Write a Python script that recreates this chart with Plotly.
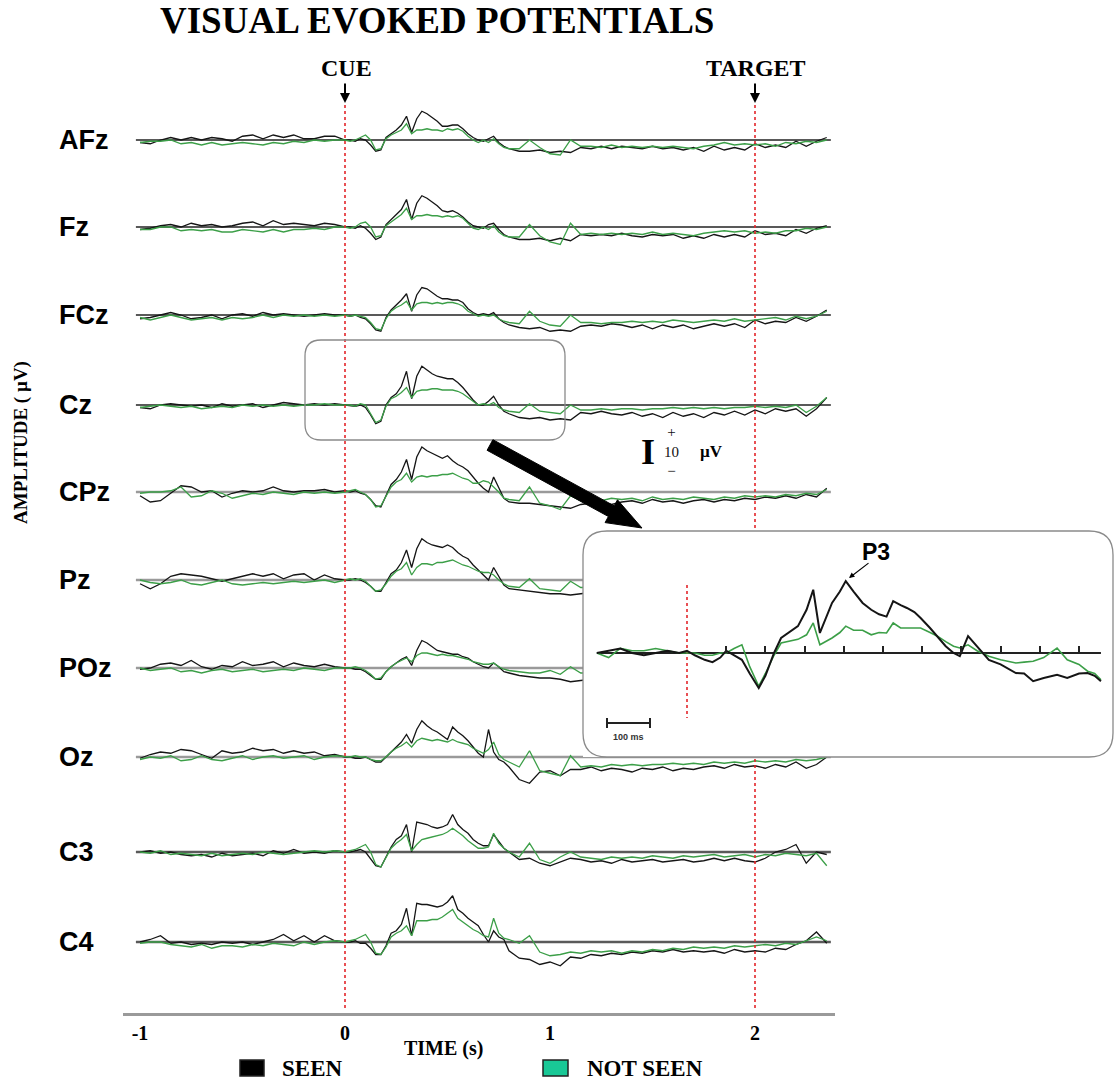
import numpy as np
import plotly.graph_objects as go

# ------------------------------------------------------------------ data
TIME_PRE = np.round(np.arange(-1.0, 0.0001, 0.05), 3)      # 21 samples
TIME_MID = np.round(np.arange(0.025, 0.8001, 0.025), 3)    # 32 samples
TIME_POST = np.round(np.arange(0.85, 2.3501, 0.05), 3)     # 31 samples
TIME_S = np.concatenate([TIME_PRE, TIME_MID, TIME_POST])

CHANNELS = ["AFz", "Fz", "FCz", "Cz", "CPz", "Pz", "POz", "Oz", "C3", "C4"]

# amplitudes in microvolts (pre-cue | 0-0.8 s | post)
AFz_seen = [-1, -1.5, 0, 1, 0, 1, 0, 1, 0.5, -0.5, 1.5, 2, 0.5, 2, 1, 2, 0.5, 0.5, 1.5, 1.5, 0,
            0, -0.5, 0.5, 0, -2, -4.5, -4, 1, 2.5, 4, 6, 9.5, 3, 8.5, 11.5, 10.5, 9, 7.5, 5.5, 5.5, 6, 6, 4.5, 2.5, 1, 0, -0.5, 0.5, 1.5, -1, -2.5, -3.5,
            -4.5, -4.5, -4, -5, -4.5, -5, -3, -3.5, -2.5, -3.5, -2.5, -3, -3.5, -2.5, -3.5, -3, -4, -3, -4.5, -2.5, -4, -3, -4, -1.5, -3, -2, -3, -0.5, -2.5, -0.5, 1]
AFz_notseen = [-1, -0.5, -0.5, 0, -1.5, -1, -2, -1, -2, -1.5, -1, -1.5, -2, -1, -1.5, -0.5, -1, 0, -0.5, 0, 0,
               -0.5, 0, 1, 2, 0, -4, -3.5, 0.5, 2, 3, 4, 6.5, 2.5, 4, 4, 4.5, 4, 4, 3.5, 4.5, 4, 4.5, 3.5, 1.5, 0, -1, 0, -1, 0.5, -1.5, -3, -3.5,
               -3.5, 0, -3, -5.5, -6, 0, -2.5, -2.5, -3, -2, -3, -2.5, -3, -2.5, -3, -2.5, -3, -3.5, -2.5, -2, -1, -2, -1.5, -2, -1.5, -2.5, -1, -1.5, -0.5, -1, 0]

Fz_seen = [-1, -0.5, 0.5, 1, 0, 1.5, 0.5, 1, 0, 0.5, 1.5, 2, 0.5, 2.5, 1, 1.5, 1, 0.5, 1.5, 1, 0,
           0, -0.5, 0.5, -0.5, -2.5, -5, -4, 1, 3, 5, 7, 11, 3, 9.5, 12.5, 11.5, 10, 8.5, 6.5, 6, 6.5, 5.5, 4, 2, 0.5, 0, -0.5, 1, 1.5, -1, -3, -4,
           -5, -5, -4.5, -5.5, -4.5, -5.5, -3, -3.5, -3, -3.5, -2.5, -3.5, -4, -3, -3.5, -3, -4.5, -3.5, -4.5, -3, -4, -3, -4, -1.5, -3, -2.5, -3.5, -1, -2.5, -0.5, 0.5]
Fz_notseen = [-1, -1, 0, 0, -1.5, -1, -1.5, -1, -2, -2, -1, -1.5, -2, -1, -2, -1, -1, -0.5, -1, 0, 0,
              -0.5, 0, 1.5, 2, 0, -4, -3.5, 0.5, 2, 3.5, 5, 7.5, 3, 4.5, 4.5, 5, 4.5, 4.5, 4, 4.5, 4, 4.5, 3.5, 1.5, -0.5, -1, 0, -1, 0.5, -2, -3.5, -4,
              -4, 1, -3.5, -6, -7, 1.5, -3, -2.5, -3, -2.5, -3, -2.5, -3, -2, -3, -2.5, -3, -3.5, -2.5, -2, -1.5, -2, -1.5, -2.5, -2, -2.5, -1.5, -1.5, -0.5, -1, 0]

FCz_seen = [-1.5, -1, 0, 1, 0, -1.5, -1, 0, -1.5, 0, 0.5, -0.5, 1, 0, 0.5, 0, -0.5, 0, 0.5, 0, 0,
            -0.5, 0, -1, -1.5, -3.5, -6, -6.5, -1, 2, 4, 6, 8.5, 1.5, 8, 11, 10.5, 9, 7.5, 6.5, 6.5, 6, 6, 5, 2.5, 1, 0, 0.5, 0, 1, -1.5, -3, -4,
            -5, -5.5, -5, -6.5, -6, -6.5, -4.5, -4, -4.5, -3.5, -4, -5, -4, -5.5, -4, -5, -4, -5.5, -4.5, -3.5, -4.5, -3.5, -5, -2, -3.5, -2.5, -3, -1, -2.5, -0.5, 2]
FCz_notseen = [-1, -2, -1, 0, -1, -2, -1.5, -1, -2, -1, -1.5, -1, 0, -1, 0, -0.5, 0, -0.5, 0, -0.5, 0,
               -0.5, 0, -0.5, -1, -3, -5.5, -6, -1.5, 1.5, 3, 4, 5.5, 2, 4.5, 5, 5, 4.5, 5, 4.5, 5, 5, 4.5, 3.5, 1.5, 0.5, -0.5, 0, -0.5, 0, -1.5, -2.5, -3,
               -3.5, 1.5, -2.5, -4, -4.5, 0, -3, -3, -3.5, -3, -3, -2.5, -3, -2.5, -3, -2, -2.5, -3, -2.5, -2, -2.5, -1.5, -2.5, -2, -1.5, -1, -2, -0.5, -1.5, -0.5, 1.5]

Cz_seen = [-1, -1.5, 0, 0.5, 0, -0.5, 0, -1, 0.5, -0.5, 0, 0.5, -1, 0, 1, 0.5, 0, 0.5, 0, 0.5, 0,
           0, -0.5, 0, -1, -4, -7.5, -6.5, 0, 3, 4.5, 7.5, 13.5, 2.5, 11.5, 15.5, 14, 12.5, 11.5, 11, 10.5, 10.5, 9, 7, 4.5, 2, 0, 0, 1.5, 3.5, 0, -2.5, -3.5,
           -5, -5.5, -5, -6, -5.5, -6, -3, -3.5, -2.5, -3.5, -4, -3, -4.5, -3.5, -5, -3, -4.5, -3.5, -5, -3, -4, -2.5, -4, -2, -3.5, -1.5, -2.5, -1.5, -4.5, -1.5, 3]
Cz_notseen = [-1, -0.5, 0, -0.5, -1, -0.5, -1.5, -1, -0.5, -1, 0, -0.5, 0, -0.5, 0, -0.5, 0, 0, 0.5, 0, 0,
              0, -0.5, 0.5, 0, -3.5, -7, -6, -0.5, 2.5, 3.5, 5, 7, 3, 5.5, 6, 6, 6.5, 6.5, 6, 6, 6, 5.5, 4.5, 3, 1.5, 0, 0.5, 0, 1, -1, -2, -2.5,
              -3, 0.5, -2.5, -3, -3.5, 0, -2, -2, -1.5, -2, -1.5, -1.5, -2, -1.5, -1.5, -1, -1.5, -1, -1.5, -1, -1.5, -1, -1, -0.5, -1, -0.5, -1, 0, -3, -0.5, 3]

CPz_seen = [-1.5, -4, -3.5, -0.5, 2.5, 2, 0, 0.5, -2, -0.5, 0.5, 0, 0.5, 2, 0.5, 0, 0.5, 0.5, 1, 0, 0.5,
            0, 0.5, -0.5, -1, -3, -5.5, -6, -1.5, 3, 5, 8, 13, 5, 14, 18, 16.5, 15.5, 14.5, 13.5, 14.5, 12.5, 11, 10, 8.5, 6, 3.5, 1.5, 0, 6, 2, -2.5, -4,
            -4.5, -4.5, -5, -5.5, -6, -6.5, -5, -4.5, -4, -5, -4, -3.5, -4.5, -3, -4, -3.5, -4.5, -3.5, -3, -4, -3, -3.5, -2.5, -3, -2, -2.5, -1.5, -2.5, -1, -2, 1.5]
CPz_notseen = [-0.5, 0, 0, 0.5, 2, -2, -1.5, 0.5, -0.5, -2.5, -1.5, -0.5, -1, 0, -0.5, -1, 0, -0.5, 0, -0.5, 0,
               0.5, 1, 0, -1, -3, -6, -5.5, -2, 2, 4, 5, 7.5, 4, 6, 6.5, 6, 6.5, 6.5, 7, 7, 7.5, 6.5, 5.5, 5, 3.5, 3.5, 4.5, 4, 2, 0, -2.5, -3,
               -3.5, 2, -4.5, -5.5, -7, -1.5, -3.5, -3, -3.5, -2.5, -3, -2.5, -3.5, -2, -3, -2.5, -3, -2, -2.5, -3, -2, -2.5, -1.5, -2, -1.5, -2, -1, -1.5, -0.5, -1, 1]

Pz_seen = [-1.5, -3.5, -1.5, 1.5, 2.5, 2, 1.5, 0.5, -0.5, 0.5, 1.5, 2.5, 1.5, 2.5, 0.5, 2, 2.5, 0, 2, 0.5, 0,
           0, 0.5, 0, -1, -2.5, -4.5, -4.5, -1, 2.5, 4, 7, 12, 5, 12.5, 16.5, 15, 14, 13.5, 13, 14, 13, 11, 9.5, 8.5, 6, 4, 2, 0, 5, 1.5, -2, -3.5,
           -4, -4.5, -5, -5.5, -5.5, -6, -5.5, -5, -5.5, -5, -4.5, -5, -4, -4.5, -4, -4.5, -3.5, -4, -3, -3.5, -2.5, -3, -3.5, -2.5, -2, -3, -2, -1.5, -2.5, -1, 0]
Pz_notseen = [0, -1, -1.5, -1, 0, -1.5, -2, -1, 0, -1.5, -2, -1.5, -1, -1.5, -1, -0.5, -1, -0.5, 0, -1, 0,
              0.5, 0, 0.5, -0.5, -2.5, -4.5, -4, -1.5, 1.5, 3.5, 4.5, 7, 2, 5, 6.5, 6.5, 6, 7, 7, 7.5, 8, 7, 6, 5.5, 4.5, 3.5, 3, 3, 2, 0, -1.5, -2.5,
              -3, 0.5, -3.5, -4, -4.5, -0.5, -3, -3, -3.5, -3, -3, -2.5, -3, -2.5, -2, -2.5, -2, -1.5, -2, -1.5, -1, -1.5, -1, -1.5, -1, -1, -0.5, -1, -0.5, -0.5, 0]

POz_seen = [-0.5, 0, 1.5, 2, 1, 3, 0.5, -0.5, 1, 0.5, 2.5, 1, 1.5, 2.5, 0.5, 2, 1, 0.5, 1.5, 0.5, 0,
            0, -0.5, -0.5, -1.5, -3, -4.5, -4.5, -1.5, 0.5, 2, 3.5, 4.5, 1, 7, 11, 10, 8.5, 7, 6.5, 6, 5.5, 5.5, 4.5, 4, 2.5, 1.5, 0.5, 0, 2, 0.5, -1.5, -2,
            -3, -3.5, -4, -4, -4.5, -5.5, -5, -4.5, -5, -4, -4.5, -4, -3.5, -4, -3, -3.5, -3, -3.5, -2.5, -3, -2, -2.5, -3, -2, -2.5, -1.5, -2, -1, -1.5, -0.5, 0]
POz_notseen = [0, -1, -0.5, 0, -1.5, -1, -2, -1, -0.5, -1.5, -1, -0.5, -1.5, -1, -0.5, -1, 0, -0.5, -1, 0, 0,
               0, 0.5, 0, -1, -2.5, -4.5, -4, -1.5, 0.5, 2, 3, 4, 2.5, 5, 6, 6, 5.5, 5, 5.5, 5, 5, 4.5, 4, 3.5, 2.5, 2, 1.5, 1.5, 2, 0.5, -0.5, -1,
               -1.5, -2, -2, -1, -2.5, 0.5, -2, -2, -2.5, -2, -2, -1.5, -2, -1.5, -1.5, -1, -1.5, -1, -1, -1.5, -1, -0.5, -1, -1, -0.5, -1, 0, -0.5, 0, -0.5, 0]

Oz_seen = [-0.5, 1, 2, 1.5, 3, 2.5, 1, -0.5, 2.5, 1.5, 2, 3.5, 2.5, 3, 1.5, 2.5, 1.5, 2, 0.5, 1, 0,
           0, -0.5, -0.5, 0, -1, -2, -2, 0, 2, 4, 6, 9, 5.5, 11, 14.5, 12.5, 11, 10, 8.5, 7, 12, 10, 8.5, 6.5, 4, 1.5, 0, 11, 2, -1, -2, -4,
           -9, -10.5, -6, -5.5, -7.5, -5, -5, -4, -5.5, -4.5, -5, -6, -4.5, -5, -4, -5.5, -4.5, -5, -4, -3.5, -4.5, -3, -4, -3.5, -4.5, -3, -4, -2, -4.5, -3, 0]
Oz_notseen = [-1, 0, -0.5, 0.5, -1.5, -1, 0.5, -1, -1.5, -0.5, 0.5, -1, 0, 0.5, -0.5, 0, 0.5, -1, 0, 0.5, 0,
              0, 0.5, 0, 0, -1, -1.5, -1.5, 0, 2, 3.5, 4.5, 6, 4, 6.5, 7.5, 7, 6.5, 7, 6.5, 6, 7, 6, 5.5, 5, 3.5, 2.5, 1.5, 3, 6, 1, -1, -2,
              -4, 2.5, -5.5, -6.5, -7.5, 0.5, -4, -3.5, -4, -3, -3.5, -3, -3.5, -3, -3, -2.5, -3, -2.5, -3, -2, -2.5, -2, -2.5, -1.5, -2, -1.5, -2, -1, -1.5, -1, 0]

C3_seen = [0, 0.5, -0.5, 0, -1, -1.5, -1, -2, -0.5, -1.5, -1, -0.5, -1.5, 0.5, -0.5, 1, -0.5, 0, -0.5, 0.5, 0,
           0, 0.5, 1, 0, -3, -5.5, -6, -2, 2, 5, 6.5, 11, 0, 12, 11.5, 11, 10, 9.5, 10, 11, 15, 11, 9, 7.5, 5, 3.5, 2.5, 2.5, 7, 4, 1.5, 0,
           -3, -2.5, -4.5, -5.5, -4, -2.5, -3, -4, -3.5, -4.5, -3, -4, -3.5, -3, -4, -3.5, -3, -4, -3.5, -2.5, -3.5, -2.5, -3.5, -4, -2.5, 0, 1, 3, -4.5, 0, -1]
C3_notseen = [0, -0.5, 0.5, -1, -0.5, -1, -1.5, -0.5, -1.5, -1, -0.5, -1, 0, -0.5, -1, -0.5, 0, 0.5, 0, 0.5, 0,
              0.5, 1, 2, 3, 0, -5, -6, -2.5, 1.5, 3.5, 5, 7, 0.5, 3, 5, 5.5, 6, 6.5, 7, 8, 9.5, 8, 6.5, 4.5, 3, 1.5, 1.5, 2, 7.5, 3.5, 1.5, 0,
              -2, 3.5, -3, -4.5, -2, 0, -2, -2.5, -3, -2, -2.5, -2, -2.5, -1.5, -2, -2.5, -1.5, -2, -1.5, -1, -2, -1.5, -1, -2, -1, -1.5, -0.5, -1, -1.5, -0.5, -5.5]

C4_seen = [0, 1, 2.5, -0.5, 0, -1, -0.5, -1, 0, -0.5, 0, -1, 0, 1, 3, 0.5, 2.5, 0, 2.5, 0.5, 0,
           0, 0.5, -0.5, -0.5, -2.5, -5, -5, -1.5, 3.5, 4.5, 7, 13.5, 2.5, 15.5, 15, 15, 14.5, 14, 14.5, 16, 18.5, 13, 11.5, 9.5, 8, 6.5, 3, 0, 4.5, 2, 1, -3.5,
           -6.5, -7, -9, -8, -9.5, -6, -6.5, -5, -5.5, -4.5, -5, -4, -4.5, -3.5, -4, -3, -4, -3.5, -4, -3.5, -4.5, -3, -4, -3.5, -4, -2.5, -3, -1, 0.5, 4, -0.5]
C4_notseen = [-0.5, 0, 0, -1, -1.5, -2, -1, -2.5, -1.5, -1.5, -2, -1, -1.5, -0.5, -1, -1.5, 0, -1, 0, 0.5, 0,
              0.5, 1, 2, 3, 0, -4.5, -5, -2, 2, 3.5, 4.5, 6.5, 2.5, 8.5, 8.5, 8.5, 9, 9, 10, 11.5, 13, 9.5, 8, 6.5, 5, 4, 2.5, 2, 9.5, 3.5, 1.5, 1,
              -0.5, 2.5, -4, -5.5, -5, -4, -4.5, -3.5, -4, -3.5, -4.5, -3.5, -4, -3, -3.5, -2.5, -3, -2, -2.5, -2, -2.5, -1.5, -2, -1.5, -1, -1.5, -0.5, -1, 0.5, 2, 0.5]

SEEN = {"AFz": AFz_seen, "Fz": Fz_seen, "FCz": FCz_seen, "Cz": Cz_seen, "CPz": CPz_seen,
        "Pz": Pz_seen, "POz": POz_seen, "Oz": Oz_seen, "C3": C3_seen, "C4": C4_seen}
NOT_SEEN = {"AFz": AFz_notseen, "Fz": Fz_notseen, "FCz": FCz_notseen, "Cz": Cz_notseen, "CPz": CPz_notseen,
            "Pz": Pz_notseen, "POz": POz_notseen, "Oz": Oz_notseen, "C3": C3_notseen, "C4": C4_notseen}

# zoomed Cz inset (time in ms, amplitude in microvolts)
INSET_T_MS = [-230, -200, -170, -140, -110, -80, -50, -20, 0, 20, 45, 65, 85, 100, 120, 140, 160, 183, 200,
              222, 240, 260, 283, 305, 322, 339, 355, 370, 390, 405, 425, 448, 470, 490, 509, 526, 545, 561, 580,
              596, 620, 639, 660, 680, 696, 717, 740, 770, 800, 839, 860, 883, 910, 944, 970, 1000, 1022, 1040, 1056]
INSET_CZ_SEEN = [0, 0.5, 1, 0, -0.5, 0, 0.5, 0, 0.5, -0.5, -1.5, -2, -1, 0.5, -0.5, -1.5, -4.5, -7.7, -5,
                 0, 3.3, 4.5, 5.9, 9.5, 13.9, 4.4, 8, 11, 13.5, 15.8, 13.5, 11, 9.5, 8.5, 8, 11.4, 10.5, 9.9, 9,
                 7.7, 5.5, 3.7, 1.5, 0, -0.7, 3.7, 1.5, -1.5, -2.5, -4.4, -4.5, -6.2, -5.5, -4.8, -5.5, -4.5, -4.4, -5, -6.2]
INSET_CZ_NOTSEEN = [0, -1, 1, 0.5, 0.5, 1, 0.5, 0, 0, 0, -0.5, -0.5, 0, 0, 1, 1.8, -3, -7.3, -4.5,
                    -0.5, 2.2, 2.5, 3, 4, 6.6, 1.8, 2.5, 3.3, 4.5, 5.9, 5, 5, 4, 4.5, 4.4, 6.6, 5.5, 5.5, 5.5,
                    5.5, 4.5, 3.7, 2.5, 1.5, 1.1, 1.8, 0.5, -0.7, -1.5, -2.2, -2, -1.8, -1, 1.1, -1.5, -2.5, -4, -4.5, -5.9]
INSET_TICKS_MS = [100, 200, 300, 400, 500, 600, 700, 800, 900, 1000]

X_TICKS = [-1, 0, 1, 2]
X_TICK_TEXT = ["-1", "0", "1", "2"]
EVENTS = [("CUE", 0.0), ("TARGET", 2.0)]

for ch in CHANNELS:
    for nm, d in (("seen", SEEN[ch]), ("not seen", NOT_SEEN[ch])):
        if len(d) != len(TIME_S):
            raise ValueError(f"{ch} {nm}: {len(d)} values, expected {len(TIME_S)}")
assert len(INSET_T_MS) == len(INSET_CZ_SEEN) == len(INSET_CZ_NOTSEEN)

# ------------------------------------------------------------------ layout constants
W, H = 1114, 1081
GAIN = 2.5                  # px per microvolt (main panel)
PX_PER_S, X0_PX = 205.0, 345.0
BASE_PX = [140, 227, 315, 405, 492, 580, 668, 757, 852, 942]
BASE_COL = ["#222222"] * 4 + ["#9a9a9a"] * 4 + ["#5a5a5a"] * 2
BASE_W = [1.5] * 4 + [2.5] * 4 + [2.5] * 2
AXIS_PX = 1013
INSET_BOX = (583, 531, 1113, 757)
INSET_BASE_PX, INSET_T0_PX, INSET_PX_PER_MS, INSET_GAIN = 653, 687, 0.392, 4.55

BLACK = "#151515"
GREEN = "#3c9f48"
RED = "#e3262b"
SERIF = "Liberation Serif, Times New Roman, serif"
SANS = "Liberation Sans, Arial, sans-serif"


def px2paper(x, y):
    return x / W, 1 - y / H


def pp(x, y):
    X, Y = px2paper(x, y)
    return f"{X:.5f},{Y:.5f}"


def rrect(x0, y0, x1, y1, r):
    return (f"M {pp(x0 + r, y0)} L {pp(x1 - r, y0)} Q {pp(x1, y0)} {pp(x1, y0 + r)} "
            f"L {pp(x1, y1 - r)} Q {pp(x1, y1)} {pp(x1 - r, y1)} L {pp(x0 + r, y1)} "
            f"Q {pp(x0, y1)} {pp(x0, y1 - r)} L {pp(x0, y0 + r)} Q {pp(x0, y0)} {pp(x0 + r, y0)} Z")


fig = go.Figure()

# ---- main panel
for i, ch in enumerate(CHANNELS):
    off = -BASE_PX[i] / GAIN
    fig.add_trace(go.Scatter(x=[-1.02, 2.37], y=[off, off], mode="lines",
                             line=dict(color=BASE_COL[i], width=BASE_W[i]), hoverinfo="skip"))
    fig.add_trace(go.Scatter(x=TIME_S, y=off + np.array(SEEN[ch], dtype=float), mode="lines",
                             line=dict(color=BLACK, width=1.3), name="SEEN"))
    fig.add_trace(go.Scatter(x=TIME_S, y=off + np.array(NOT_SEEN[ch], dtype=float), mode="lines",
                             line=dict(color=GREEN, width=1.3), name="NOT SEEN"))

for _, t in EVENTS:
    fig.add_trace(go.Scatter(x=[t, t], y=[-105 / GAIN, -1010 / GAIN], mode="lines",
                             line=dict(color=RED, width=1.6, dash="dot"), hoverinfo="skip"))

# ---- inset (Cz zoom)
fig.add_trace(go.Scatter(x=[INSET_T_MS[0], INSET_T_MS[-1]], y=[0, 0], mode="lines",
                         line=dict(color="#222222", width=2), xaxis="x2", yaxis="y2", hoverinfo="skip"))
fig.add_trace(go.Scatter(x=[0, 0], y=[(INSET_BASE_PX - 585) / INSET_GAIN, (INSET_BASE_PX - 718) / INSET_GAIN],
                         mode="lines", line=dict(color=RED, width=1.6, dash="dot"),
                         xaxis="x2", yaxis="y2", hoverinfo="skip"))
fig.add_trace(go.Scatter(x=INSET_T_MS, y=INSET_CZ_NOTSEEN, mode="lines",
                         line=dict(color=GREEN, width=1.6), xaxis="x2", yaxis="y2"))
fig.add_trace(go.Scatter(x=INSET_T_MS, y=INSET_CZ_SEEN, mode="lines",
                         line=dict(color=BLACK, width=2.0), xaxis="x2", yaxis="y2"))

x_lo = (123 - X0_PX) / PX_PER_S
x_hi = (835 - X0_PX) / PX_PER_S
ix0, iy0, ix1, iy1 = INSET_BOX

fig.update_layout(
    width=W, height=H, margin=dict(l=0, r=0, t=0, b=0),
    paper_bgcolor="white", plot_bgcolor="white", showlegend=False,
    xaxis=dict(domain=[123 / W, 835 / W], range=[x_lo, x_hi], anchor="y",
               showline=True, linecolor="#9a9a9a", linewidth=2.5, showgrid=False, zeroline=False,
               tickvals=X_TICKS, ticktext=X_TICK_TEXT, ticks="",
               tickfont=dict(family=SERIF, size=20, color="black", weight="bold")),
    yaxis=dict(domain=[1 - AXIS_PX / H, 1], range=[-AXIS_PX / GAIN, 0], visible=False),
    xaxis2=dict(domain=[ix0 / W, ix1 / W],
                range=[(ix0 - INSET_T0_PX) / INSET_PX_PER_MS, (ix1 - INSET_T0_PX) / INSET_PX_PER_MS],
                anchor="free", position=1 - INSET_BASE_PX / H, showline=False, showgrid=False,
                zeroline=False, showticklabels=False, ticks="inside", ticklen=7, tickwidth=1.5,
                tickcolor="#222222", tickvals=INSET_TICKS_MS),
    yaxis2=dict(domain=[1 - iy1 / H, 1 - iy0 / H], anchor="x2",
                range=[-(iy1 - INSET_BASE_PX) / INSET_GAIN, (INSET_BASE_PX - iy0) / INSET_GAIN],
                visible=False),
)

ann = []


def text(x, y, s, size, family=SERIF, bold=True, xanchor="center", color="black", angle=0):
    X, Y = px2paper(x, y)
    ann.append(dict(x=X, y=Y, xref="paper", yref="paper", text=s, showarrow=False,
                    xanchor=xanchor, yanchor="middle", textangle=angle,
                    font=dict(family=family, size=size, color=color,
                              weight="bold" if bold else "normal")))


text(437, 21, "VISUAL EVOKED POTENTIALS", 37)
for (lab, t) in EVENTS:
    xpx = X0_PX + t * PX_PER_S
    text(xpx + 1, 68, lab, 24)
    X, Y = px2paper(xpx, 103)
    ann.append(dict(x=X, y=Y, xref="paper", yref="paper", text="", showarrow=True,
                    ax=0, ay=-21, arrowhead=2, arrowsize=1, arrowwidth=2, arrowcolor="black"))
for i, ch in enumerate(CHANNELS):
    text(57, BASE_PX[i], ch, 27, family=SANS, xanchor="left")
text(21, 443, "AMPLITUDE ( µV)", 19, angle=-90)
text(443, 1048, "TIME (s)", 20)
text(280, 1068, "SEEN", 23, xanchor="left")
text(585, 1068, "NOT SEEN", 23, xanchor="left")
# amplitude scale bar
text(648, 452, "I", 36)
text(671, 451, "+<br>10<br>−", 15, bold=False, color="#111111")
text(711, 451, "µV", 17)
# inset labels
text(876, 552, "P3", 23, family=SANS)
X, Y = px2paper(849, 578)
ann.append(dict(x=X, y=Y, xref="paper", yref="paper", text="", showarrow=True,
                ax=21, ay=-16, arrowhead=2, arrowsize=0.9, arrowwidth=1.2, arrowcolor="black"))
text(628, 737, "100 ms", 9, family=SANS, color="#333333")

shapes = []
shapes.append(dict(type="path", xref="paper", yref="paper", path=rrect(ix0, iy0, ix1, iy1, 24),
                   line=dict(color="#8a8a8a", width=1.3), layer="above"))
shapes.append(dict(type="path", xref="paper", yref="paper", path=rrect(305, 340, 565, 440, 16),
                   line=dict(color="#8a8a8a", width=1.3), layer="above"))
arrow_pts = [(487.1, 450.3), (608.4, 516.5), (605.1, 522.6), (642, 528), (617.5, 499.8),
             (614.2, 505.9), (492.9, 439.7)]
shapes.append(dict(type="path", xref="paper", yref="paper",
                   path="M " + " L ".join(pp(*p) for p in arrow_pts) + " Z",
                   fillcolor="black", line=dict(color="black", width=1), layer="above"))
for (x0, x1, fc) in ((240, 264, "black"), (543, 568, "#19c896")):
    X0, Y0 = px2paper(x0, 1076)
    X1, Y1 = px2paper(x1, 1060)
    shapes.append(dict(type="rect", xref="paper", yref="paper", x0=X0, y0=Y0, x1=X1, y1=Y1,
                       fillcolor=fc, line=dict(color="#222222", width=1.5), layer="above"))
# 100 ms bar in the inset
shapes.append(dict(type="path", xref="paper", yref="paper",
                   path=f"M {pp(607, 718)} L {pp(607, 728)} M {pp(607, 723)} L {pp(650, 723)} "
                        f"M {pp(650, 718)} L {pp(650, 728)}",
                   line=dict(color="#222222", width=2), layer="above"))

fig.update_layout(annotations=ann, shapes=shapes)
fig.write_html("out.html", config={"displayModeBar": False},
               post_script="document.body.style.margin='0px';document.body.style.overflow='hidden';")
